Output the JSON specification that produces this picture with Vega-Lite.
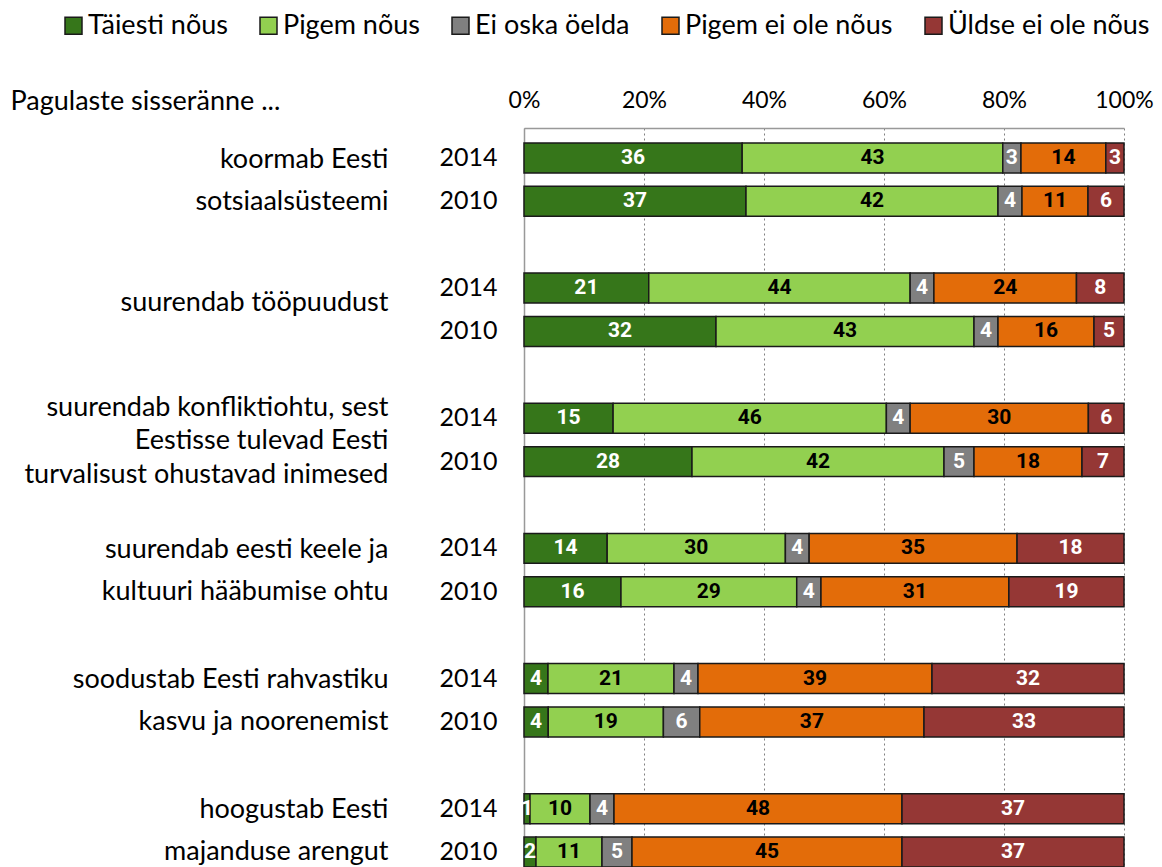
{
  "$schema": "https://vega.github.io/schema/vega-lite/v6.json",
  "width": 600,
  "height": 754,
  "padding": {"left": 10, "top": 12, "right": 5, "bottom": 0},
  "config": {"view": {"stroke": null}, "font": "Lato", "text": {"font": "Lato"}},
  "datasets": {
    "main": [
      {"row": "1|2014", "resp": "Täiesti nõus", "o": 1, "v": 36},
      {"row": "1|2014", "resp": "Pigem nõus", "o": 2, "v": 43},
      {"row": "1|2014", "resp": "Ei oska öelda", "o": 3, "v": 3},
      {"row": "1|2014", "resp": "Pigem ei ole nõus", "o": 4, "v": 14},
      {"row": "1|2014", "resp": "Üldse ei ole nõus", "o": 5, "v": 3},
      {"row": "1|2010", "resp": "Täiesti nõus", "o": 1, "v": 37},
      {"row": "1|2010", "resp": "Pigem nõus", "o": 2, "v": 42},
      {"row": "1|2010", "resp": "Ei oska öelda", "o": 3, "v": 4},
      {"row": "1|2010", "resp": "Pigem ei ole nõus", "o": 4, "v": 11},
      {"row": "1|2010", "resp": "Üldse ei ole nõus", "o": 5, "v": 6},
      {"row": "2|2014", "resp": "Täiesti nõus", "o": 1, "v": 21},
      {"row": "2|2014", "resp": "Pigem nõus", "o": 2, "v": 44},
      {"row": "2|2014", "resp": "Ei oska öelda", "o": 3, "v": 4},
      {"row": "2|2014", "resp": "Pigem ei ole nõus", "o": 4, "v": 24},
      {"row": "2|2014", "resp": "Üldse ei ole nõus", "o": 5, "v": 8},
      {"row": "2|2010", "resp": "Täiesti nõus", "o": 1, "v": 32},
      {"row": "2|2010", "resp": "Pigem nõus", "o": 2, "v": 43},
      {"row": "2|2010", "resp": "Ei oska öelda", "o": 3, "v": 4},
      {"row": "2|2010", "resp": "Pigem ei ole nõus", "o": 4, "v": 16},
      {"row": "2|2010", "resp": "Üldse ei ole nõus", "o": 5, "v": 5},
      {"row": "3|2014", "resp": "Täiesti nõus", "o": 1, "v": 15},
      {"row": "3|2014", "resp": "Pigem nõus", "o": 2, "v": 46},
      {"row": "3|2014", "resp": "Ei oska öelda", "o": 3, "v": 4},
      {"row": "3|2014", "resp": "Pigem ei ole nõus", "o": 4, "v": 30},
      {"row": "3|2014", "resp": "Üldse ei ole nõus", "o": 5, "v": 6},
      {"row": "3|2010", "resp": "Täiesti nõus", "o": 1, "v": 28},
      {"row": "3|2010", "resp": "Pigem nõus", "o": 2, "v": 42},
      {"row": "3|2010", "resp": "Ei oska öelda", "o": 3, "v": 5},
      {"row": "3|2010", "resp": "Pigem ei ole nõus", "o": 4, "v": 18},
      {"row": "3|2010", "resp": "Üldse ei ole nõus", "o": 5, "v": 7},
      {"row": "4|2014", "resp": "Täiesti nõus", "o": 1, "v": 14},
      {"row": "4|2014", "resp": "Pigem nõus", "o": 2, "v": 30},
      {"row": "4|2014", "resp": "Ei oska öelda", "o": 3, "v": 4},
      {"row": "4|2014", "resp": "Pigem ei ole nõus", "o": 4, "v": 35},
      {"row": "4|2014", "resp": "Üldse ei ole nõus", "o": 5, "v": 18},
      {"row": "4|2010", "resp": "Täiesti nõus", "o": 1, "v": 16},
      {"row": "4|2010", "resp": "Pigem nõus", "o": 2, "v": 29},
      {"row": "4|2010", "resp": "Ei oska öelda", "o": 3, "v": 4},
      {"row": "4|2010", "resp": "Pigem ei ole nõus", "o": 4, "v": 31},
      {"row": "4|2010", "resp": "Üldse ei ole nõus", "o": 5, "v": 19},
      {"row": "5|2014", "resp": "Täiesti nõus", "o": 1, "v": 4},
      {"row": "5|2014", "resp": "Pigem nõus", "o": 2, "v": 21},
      {"row": "5|2014", "resp": "Ei oska öelda", "o": 3, "v": 4},
      {"row": "5|2014", "resp": "Pigem ei ole nõus", "o": 4, "v": 39},
      {"row": "5|2014", "resp": "Üldse ei ole nõus", "o": 5, "v": 32},
      {"row": "5|2010", "resp": "Täiesti nõus", "o": 1, "v": 4},
      {"row": "5|2010", "resp": "Pigem nõus", "o": 2, "v": 19},
      {"row": "5|2010", "resp": "Ei oska öelda", "o": 3, "v": 6},
      {"row": "5|2010", "resp": "Pigem ei ole nõus", "o": 4, "v": 37},
      {"row": "5|2010", "resp": "Üldse ei ole nõus", "o": 5, "v": 33},
      {"row": "6|2014", "resp": "Täiesti nõus", "o": 1, "v": 1},
      {"row": "6|2014", "resp": "Pigem nõus", "o": 2, "v": 10},
      {"row": "6|2014", "resp": "Ei oska öelda", "o": 3, "v": 4},
      {"row": "6|2014", "resp": "Pigem ei ole nõus", "o": 4, "v": 48},
      {"row": "6|2014", "resp": "Üldse ei ole nõus", "o": 5, "v": 37},
      {"row": "6|2010", "resp": "Täiesti nõus", "o": 1, "v": 2},
      {"row": "6|2010", "resp": "Pigem nõus", "o": 2, "v": 11},
      {"row": "6|2010", "resp": "Ei oska öelda", "o": 3, "v": 5},
      {"row": "6|2010", "resp": "Pigem ei ole nõus", "o": 4, "v": 45},
      {"row": "6|2010", "resp": "Üldse ei ole nõus", "o": 5, "v": 37}
    ],
    "groups": [
      {"label": "koormab Eesti|sotsiaalsüsteemi"},
      {"label": "suurendab tööpuudust"},
      {"label": "suurendab konfliktiohtu, sest|Eestisse tulevad Eesti|turvalisust ohustavad inimesed"},
      {"label": "suurendab eesti keele ja|kultuuri hääbumise ohtu"},
      {"label": "soodustab Eesti rahvastiku|kasvu ja noorenemist"},
      {"label": "hoogustab Eesti|majanduse arengut"}
    ]
  },
  "layer": [
    {
      "data": {"name": "main"},
      "layer": [
        {
          "mark": {"type": "bar", "stroke": "#1a1a1a", "strokeWidth": 1.5},
          "encoding": {
            "y": {
              "field": "row", "type": "nominal",
              "scale": {
                "domain": ["1|2014", "1|2010", "g1", "2|2014", "2|2010", "g2", "3|2014", "3|2010", "g3", "4|2014", "4|2010", "g4", "5|2014", "5|2010", "g5", "6|2014", "6|2010"],
                "paddingInner": 0.31, "paddingOuter": 0.345
              },
              "axis": {
                "title": null,
                "labelExpr": "indexof(datum.value, '|') > 0 ? split(datum.value, '|')[1] : ''",
                "ticks": false,
                "domain": true,
                "domainColor": "#999999",
                "domainWidth": 1.5,
                "labelFontSize": 25,
                "labelColor": "#000000",
                "labelPadding": 27,
                "labelFont": "Lato"
              }
            },
            "x": {
              "field": "v", "type": "quantitative", "stack": "normalize",
              "scale": {"domain": [0, 1]},
              "axis": {
                "orient": "top",
                "format": ".0%",
                "values": [0, 0.2, 0.4, 0.6, 0.8, 1],
                "grid": true,
                "gridDash": [2, 3],
                "gridColor": "#808080",
                "gridWidth": 1,
                "domainColor": "#999999",
                "domainWidth": 1.5,
                "ticks": false,
                "labelFlush": false,
                "labelFontSize": 23,
                "labelColor": "#000000",
                "labelPadding": 16,
                "labelFont": "Lato",
                "title": "Pagulaste sisseränne ...",
                "titleFont": "Lato",
                "titleFontSize": 27,
                "titleFontWeight": "normal",
                "titleColor": "#000000",
                "titleAlign": "left",
                "titleAnchor": "start",
                "titleBaseline": "alphabetic",
                "titleX": -514,
                "titleY": -19
              }
            },
            "color": {
              "field": "resp", "type": "nominal",
              "scale": {
                "domain": ["Täiesti nõus", "Pigem nõus", "Ei oska öelda", "Pigem ei ole nõus", "Üldse ei ole nõus"],
                "range": ["#36761a", "#92d050", "#808080", "#e36c09", "#953735"]
              },
              "legend": {
                "title": null,
                "orient": "none",
                "direction": "horizontal",
                "legendX": -464,
                "legendY": -116,
                "symbolType": "square",
                "symbolSize": 289,
                "symbolStrokeColor": "#1a1a1a",
                "symbolStrokeWidth": 1.5,
                "labelFontSize": 27,
                "labelFont": "Lato",
                "labelColor": "#000000",
                "labelOffset": 1,
                "columnPadding": 27,
                "labelLimit": 400
              }
            },
            "order": {"field": "o"}
          }
        },
        {
          "transform": [
            {"stack": "v", "groupby": ["row"], "sort": [{"field": "o"}], "as": ["v0", "v1"], "offset": "normalize"},
            {"calculate": "(datum.v0 + datum.v1) / 2", "as": "mid"}
          ],
          "mark": {"type": "text", "font": "Roboto", "fontWeight": "bold", "fontSize": 21, "baseline": "middle", "align": "center"},
          "encoding": {
            "y": {"field": "row", "type": "nominal"},
            "x": {"field": "mid", "type": "quantitative"},
            "text": {"field": "v", "type": "quantitative"},
            "color": {
              "condition": {"test": "datum.resp === 'Pigem nõus' || datum.resp === 'Pigem ei ole nõus'", "value": "#000000"},
              "value": "#ffffff"
            }
          }
        }
      ]
    },
    {
      "data": {"name": "groups"},
      "mark": {"type": "point", "opacity": 0},
      "encoding": {
        "y": {
          "field": "label", "type": "nominal",
          "scale": {
            "type": "point", "padding": 0.4,
            "domain": ["koormab Eesti|sotsiaalsüsteemi", "suurendab tööpuudust", "suurendab konfliktiohtu, sest|Eestisse tulevad Eesti|turvalisust ohustavad inimesed", "suurendab eesti keele ja|kultuuri hääbumise ohtu", "soodustab Eesti rahvastiku|kasvu ja noorenemist", "hoogustab Eesti|majanduse arengut"]
          },
          "axis": {
            "orient": "left",
            "title": null,
            "labelExpr": "indexof(datum.value, 'konflikt') >= 0 ? '' : split(datum.value, '|')",
            "ticks": false,
            "domain": false,
            "labelFontSize": 27,
            "labelFont": "Lato",
            "labelColor": "#000000",
            "labelPadding": 136,
            "labelLimit": 600,
            "labelLineHeight": 42,
            "labelOffset": {"condition": {"test": "indexof(datum.value, '|') >= 0", "value": -21}, "value": -8}
          }
        }
      }
    },
    {
      "data": {"name": "groups"},
      "mark": {"type": "point", "opacity": 0},
      "encoding": {
        "y": {
          "field": "label", "type": "nominal",
          "scale": {
            "type": "point", "padding": 0.4,
            "domain": ["koormab Eesti|sotsiaalsüsteemi", "suurendab tööpuudust", "suurendab konfliktiohtu, sest|Eestisse tulevad Eesti|turvalisust ohustavad inimesed", "suurendab eesti keele ja|kultuuri hääbumise ohtu", "soodustab Eesti rahvastiku|kasvu ja noorenemist", "hoogustab Eesti|majanduse arengut"]
          },
          "axis": {
            "orient": "left",
            "title": null,
            "labelExpr": "indexof(datum.value, 'konflikt') >= 0 ? split(datum.value, '|') : ''",
            "ticks": false,
            "domain": false,
            "labelFontSize": 27,
            "labelFont": "Lato",
            "labelColor": "#000000",
            "labelPadding": 136,
            "labelLimit": 600,
            "labelLineHeight": 33.5,
            "labelOffset": -33
          }
        }
      }
    }
  ],
  "resolve": {"scale": {"y": "independent"}, "axis": {"y": "independent"}}
}
